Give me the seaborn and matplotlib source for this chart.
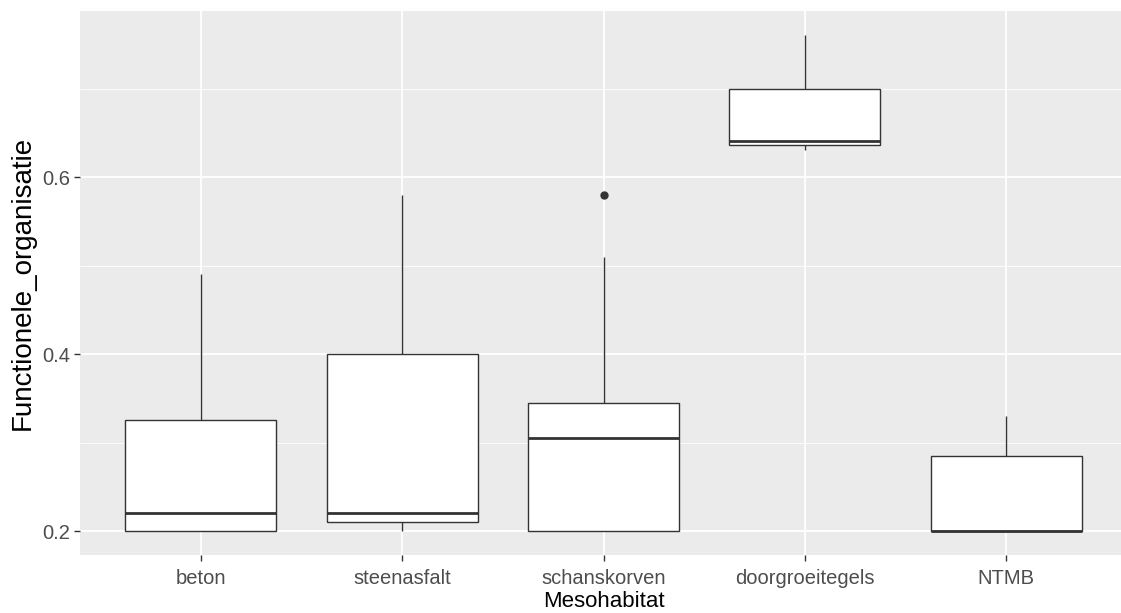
import numpy as np
import pandas as pd
import matplotlib.pyplot as plt
import seaborn as sns

CATEGORIES = ["beton", "steenasfalt", "schanskorven", "doorgroeitegels", "NTMB"]
BETON = [0.20, 0.20, 0.20, 0.21, 0.22, 0.25, 0.325, 0.40, 0.49]
STEENASFALT = [0.20, 0.21, 0.21, 0.22, 0.22, 0.30, 0.40, 0.45, 0.58]
SCHANSKORVEN = [0.20, 0.20, 0.20, 0.25, 0.305, 0.32, 0.345, 0.51, 0.58]
DOORGROEITEGELS = [0.63, 0.636, 0.641, 0.70, 0.76]
NTMB = [0.20, 0.20, 0.20, 0.285, 0.33]

MAJOR_TICKS = [0.2, 0.4, 0.6]
MINOR_TICKS = [0.3, 0.5, 0.7]

GREY_TEXT = "#4D4D4D"
LINE = "#333333"

# ── Build long-format table ─────────────────────────────────────────────────
values = [BETON, STEENASFALT, SCHANSKORVEN, DOORGROEITEGELS, NTMB]
df = pd.DataFrame({
    "Mesohabitat": np.repeat(CATEGORIES, [len(v) for v in values]),
    "Functionele_organisatie": np.concatenate(values),
})

# ── ggplot-ish theme ────────────────────────────────────────────────────────
sns.set_theme(style="darkgrid", rc={
    "axes.facecolor": "#EBEBEB",
    "figure.facecolor": "white",
    "grid.color": "white",
})
plt.rcParams["font.family"] = ["Liberation Sans", "DejaVu Sans"]

fig = plt.figure(figsize=(11.21, 6.13), dpi=100)
ax = fig.add_axes([80 / 1121, 58 / 613, 1047 / 1121, 544 / 613])

sns.boxplot(
    data=df, x="Mesohabitat", y="Functionele_organisatie",
    order=CATEGORIES, width=0.75, color="white", linecolor=LINE,
    linewidth=1.0, whis=1.5, showcaps=False, fliersize=5,
    flierprops=dict(marker="o", markerfacecolor=LINE, markeredgecolor=LINE),
    medianprops=dict(linewidth=2.0, color=LINE),
    ax=ax,
)

ax.set_xlim(-0.6, 4.6)
ax.set_ylim(0.1729, 0.7876)
ax.set_yticks(MAJOR_TICKS)
ax.set_yticklabels([f"{t:.1f}" for t in MAJOR_TICKS])
ax.set_yticks(MINOR_TICKS, minor=True)

ax.grid(which="major", color="white", linewidth=1.3)
ax.grid(which="minor", axis="y", color="white", linewidth=0.6)
ax.set_axisbelow(True)
for s in ax.spines.values():
    s.set_visible(False)

ax.tick_params(which="major", length=4, width=1, color=LINE,
               labelsize=14.5, labelcolor=GREY_TEXT,
               bottom=True, left=True)
ax.tick_params(axis="x", which="major", pad=6)
ax.tick_params(axis="y", which="major", pad=3)
ax.tick_params(which="minor", length=0)

ax.set_xlabel("Mesohabitat", fontsize=16, color="black", labelpad=2)
ax.set_ylabel("Functionele_organisatie", fontsize=20, color="black", labelpad=5)

fig.savefig("out.png", dpi=100)
